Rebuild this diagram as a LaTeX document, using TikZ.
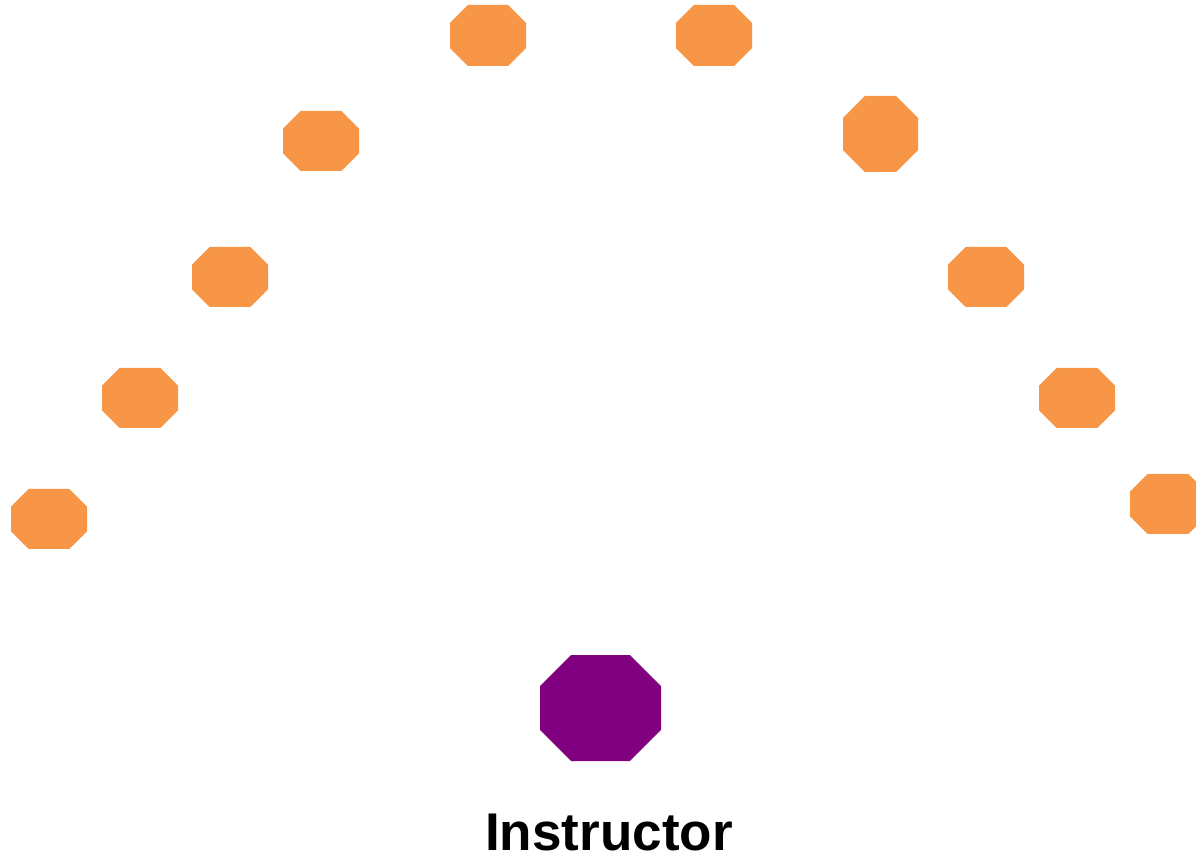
\documentclass[tikz,border=0pt]{standalone}
\usepackage{fontspec}
\setmainfont{Liberation Sans}
\definecolor{seatorange}{HTML}{F79646}
\definecolor{teachpurple}{HTML}{800080}
\begin{document}
\begin{tikzpicture}[x=0.02cm,y=-0.02cm]
\clip (0,0) rectangle (1196,857);
\useasboundingbox (0,0) rectangle (1196,857);
\foreach \n/\x/\y/\w/\h/\col in {s1/49/519/76/60/seatorange, s2/140/398/76/60/seatorange, s3/230/277/76/60/seatorange, s4/321/141/76/60/seatorange, s5/488/35.5/76/61/seatorange, s6/714/35.5/76/61/seatorange, s7/880.5/134/75/76/seatorange, s8/986/277/76/60/seatorange, s9/1077/398/76/60/seatorange, s10/1168/504/76/60/seatorange, T/600.5/708/121/106/teachpurple} {
  \pgfmathsetmacro\cutlen{0.293*min(\w,\h)}
  \fill[\col] (\x-\w/2,\y-\h/2+\cutlen) -- (\x-\w/2,\y+\h/2-\cutlen) -- (\x-\w/2+\cutlen,\y+\h/2) -- (\x+\w/2-\cutlen,\y+\h/2) -- (\x+\w/2,\y+\h/2-\cutlen) -- (\x+\w/2,\y-\h/2+\cutlen) -- (\x+\w/2-\cutlen,\y-\h/2) -- (\x-\w/2+\cutlen,\y-\h/2) -- cycle;
  \coordinate (\n) at (\x,\y);
}
\node[font=\fontsize{30.2}{32}\selectfont\bfseries,anchor=base,inner sep=0pt] (instr) at (609,850) {Instructor};
\end{tikzpicture}
\end{document}
